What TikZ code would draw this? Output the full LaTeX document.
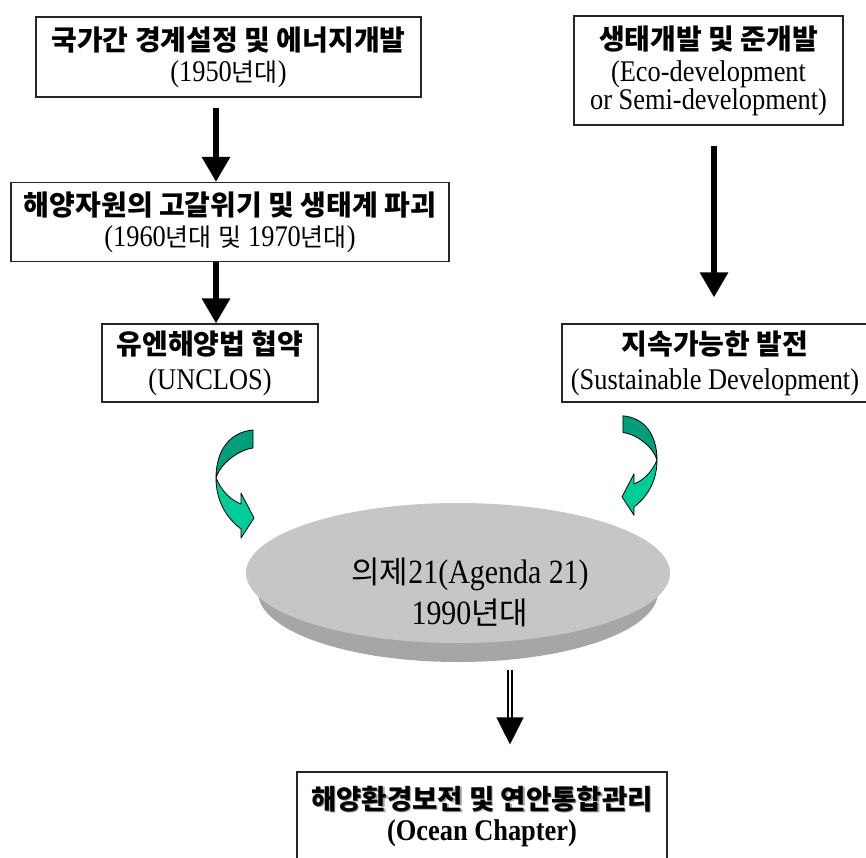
\documentclass[tikz,border=0pt]{standalone}
\usepackage{fontspec}
\setmainfont{Liberation Serif}[FakeStretch=0.88]
\newfontfamily\kr{Noto Sans CJK KR}
\usetikzlibrary{arrows.meta,calc,shapes.geometric}

\definecolor{seadark}{HTML}{009E7B}
\definecolor{sealight}{HTML}{00CC99}
\definecolor{disctop}{HTML}{C6C6C6}
\definecolor{discside}{HTML}{A6A6A6}

\newcommand{\hd}[1]{{\kr\bfseries\fontsize{28}{31}\selectfont #1}}
\newcommand{\yr}[1]{{\kr\fontsize{25}{31}\selectfont #1}}
\newcommand{\shadowtxt}[1]{\makebox[0pt][l]{\kern1.3pt\raisebox{-1.3pt}{\color{black!35}#1}}#1}

\tikzset{
  stagebox/.style={draw=black!85,line width=1.2pt,fill=white,align=center,
    inner sep=0pt,font=\fontsize{30}{31}\selectfont},
  blkarrow/.style={-{Triangle[length=25pt,width=27pt]},line width=6pt},
  dblarrow/.style={double,double distance=2.5pt,line width=1.3pt,
    -{Triangle[length=27pt,width=27pt]}},
  disc/.style={ellipse,inner sep=0pt},
  twist/.pic={
    \draw[fill=seadark,line width=0.8pt,line join=round]
      (0,0) .. controls (0,-28) and (14,-46) .. (37,-48) -- (37,-30)
      .. controls (22,-28) and (4,-14) .. (0,0) -- cycle;
    \draw[fill=sealight,line width=0.8pt,line join=round]
      (0,0) .. controls (6,14) and (15,22) .. (25,26) -- (25,15) -- (38,40)
      -- (25,60) -- (25,51) .. controls (8,38) and (0,20) .. (0,0) -- cycle;
  },
}

\begin{document}
\begin{tikzpicture}[x=1pt,y=-1pt]
  \useasboundingbox (0,0) rectangle (866,857);

  % left column
  \node[stagebox,minimum width=385pt,minimum height=80pt] (nat) at (228.5,57)
    {\hd{국가간 경계설정 및 에너지개발}\\(1950\yr{년대})};
  \node[stagebox,minimum width=438pt,minimum height=79pt] (res) at (230,222)
    {\hd{해양자원의 고갈위기 및 생태계 파괴}\\(1960\yr{년대} \yr{및} 1970\yr{년대})};
  \node[stagebox,minimum width=216pt,minimum height=78pt] (unclos) at (210,363)
    {\hd{유엔해양법 협약}\\[4pt](UNCLOS)};

  % right column
  \node[stagebox,minimum width=269pt,minimum height=109pt] (eco) at (708.5,70.5)
    {\hd{생태개발 및 준개발}\\[1pt](Eco-development\\[-3pt] or Semi-development)};
  \node[stagebox,minimum width=306pt,minimum height=78pt] (sust) at (715,363)
    {\hd{지속가능한 발전}\\[4pt](Sustainable Development)};

  \draw[blkarrow] ($(nat.south)+(-12.5,10)$) -- ($(res.north)+(-14,0)$);
  \draw[blkarrow] ($(res.south)+(-14,0)$) -- ($(unclos.north)+(6,0)$);
  \draw[blkarrow] ($(eco.south)+(5.5,20)$) -- ($(sust.north)+(-1,-26)$);

  % turning arrows
  \pic (lturn) at (216,478) {twist};
  \pic (rturn) [xscale=-0.92,yscale=0.92] at (657,460) {twist};

  % agenda disc
  \node[disc,fill=discside,minimum width=400pt,minimum height=140pt] (agendaside) at (458,592) {};
  \node[disc,fill=disctop,minimum width=424pt,minimum height=140pt] (agenda) at (458,573) {};
  \node[align=center,font=\fontsize{34}{41}\selectfont] (agendatext) at (470,592)
    {{\kr\fontsize{31}{41}\selectfont 의제}21(Agenda 21)\\1990{\kr\fontsize{31}{41}\selectfont 년대}};

  \node[stagebox,minimum width=370pt,minimum height=88pt] (chapter) at (482,816)
    {\shadowtxt{\kr\bfseries\fontsize{27.5}{32}\selectfont 해양환경보전 및 연안통합관리}\\
     {\bfseries\fontsize{30}{32}\selectfont (Ocean Chapter)}};

  \draw[dblarrow] ($(agendaside.south)+(52,8)$) -- ($(chapter.north)+(28,-27)$);
\end{tikzpicture}
\end{document}
